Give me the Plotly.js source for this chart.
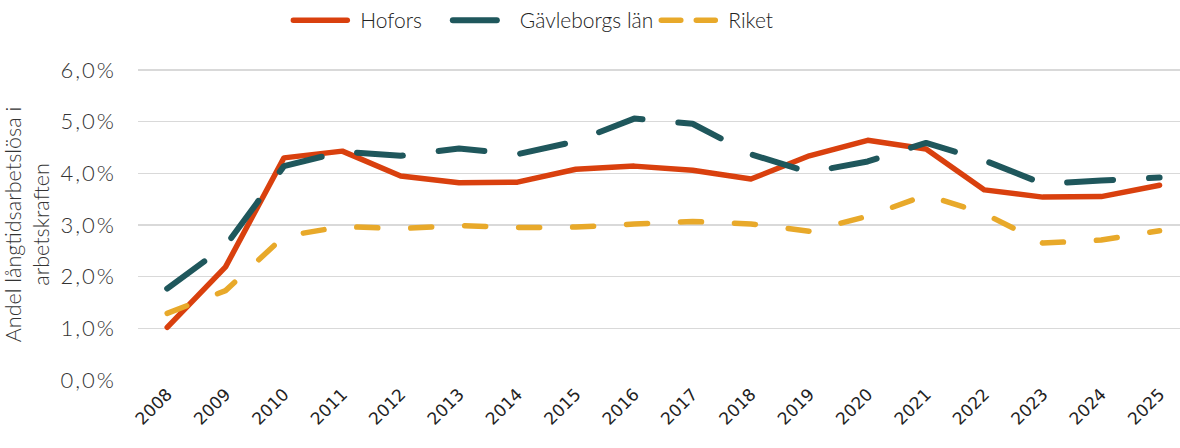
<!DOCTYPE html>
<html>
<head>
<meta charset="utf-8">
<script src="https://cdn.plot.ly/plotly-3.0.1.min.js"></script>
<style>
  html, body { margin: 0; padding: 0; background: #fff; }
  #chart { width: 1180px; height: 448px; }
  path.js-line { stroke-linecap: round !important; stroke-linejoin: round !important; }
  .legend path.js-line { d: path("M3,0h54") !important; }
  .legend path.js-line[style*="31, 87, 92"] { d: path("M3,0h44") !important; }
  .legend path.js-line[style*="232, 169, 42"] { stroke-dasharray: 19.5px, 15.5px !important; }
  .ytick text { letter-spacing: 2px; }
</style>
</head>
<body>
<div id="chart"></div>
<script>
const years = ["2008","2009","2010","2011","2012","2013","2014","2015","2016","2017","2018","2019","2020","2021","2022","2023","2024","2025"];
const hofors = [1.02, 2.19, 4.30, 4.43, 3.95, 3.82, 3.83, 4.08, 4.14, 4.06, 3.89, 4.34, 4.64, 4.47, 3.68, 3.54, 3.55, 3.77];
const gavleborg = [1.77, 2.60, 4.14, 4.42, 4.34, 4.48, 4.37, 4.62, 5.06, 4.96, 4.37, 4.02, 4.23, 4.59, 4.25, 3.80, 3.86, 3.92];
const riket = [1.29, 1.73, 2.78, 2.97, 2.93, 2.99, 2.95, 2.96, 3.02, 3.07, 3.02, 2.88, 3.17, 3.58, 3.22, 2.65, 2.71, 2.89];
const yTickVals = [0, 1, 2, 3, 4, 5, 6];
const yTickText = ["0,0%", "1,0%", "2,0%", "3,0%", "4,0%", "5,0%", "6,0%"];
const seriesNames = ["Hofors\u00a0\u00a0\u00a0\u00a0", "Gävleborgs län", "Riket"];

const traces = [
  { x: years, y: hofors, name: seriesNames[0], type: "scatter", mode: "lines",
    line: { color: "#d9400e", width: 5.5 } },
  { x: years, y: gavleborg, name: seriesNames[1], type: "scatter", mode: "lines",
    line: { color: "#1f575c", width: 6, dash: "46px,36px" } },
  { x: years, y: riket, name: seriesNames[2], type: "scatter", mode: "lines",
    line: { color: "#e8a92a", width: 5.5, dash: "21px,33px" } }
];

const layout = {
  width: 1180, height: 448,
  margin: { l: 138, r: 0, t: 68.5, b: 67.5 },
  paper_bgcolor: "#fff", plot_bgcolor: "#fff",
  font: { family: "Lato, sans-serif", color: "#333", weight: 300 },
  showlegend: true,
  legend: {
    orientation: "h", xref: "container", x: 0.246, xanchor: "left",
    yref: "container", y: 1, yanchor: "top",
    font: { size: 21, color: "#222", weight: 300 },
    itemwidth: 60, tracegroupgap: 0
  },
  xaxis: {
    type: "category", range: [-0.5, 17.35],
    showgrid: false, zeroline: false, showline: false, ticks: "",
    tickangle: -45,
    tickfont: { family: "DejaVu Sans, sans-serif", size: 17, color: "#222", weight: 400 }
  },
  yaxis: {
    range: [0, 6.02], tickvals: yTickVals, ticktext: yTickText,
    showgrid: true, gridcolor: "#d9d9d9", gridwidth: 1.5,
    zeroline: false, showline: false, ticks: "",
    ticklabelstandoff: 21,
    tickfont: { size: 22, color: "#333", weight: 300 },
    title: { text: "Andel långtidsarbetslösa i<br>arbetskraften", font: { size: 21.5, color: "#333", weight: 300 }, standoff: 20 }
  }
};

Plotly.newPlot("chart", traces, layout, { displayModeBar: false, staticPlot: true });
</script>
</body>
</html>
